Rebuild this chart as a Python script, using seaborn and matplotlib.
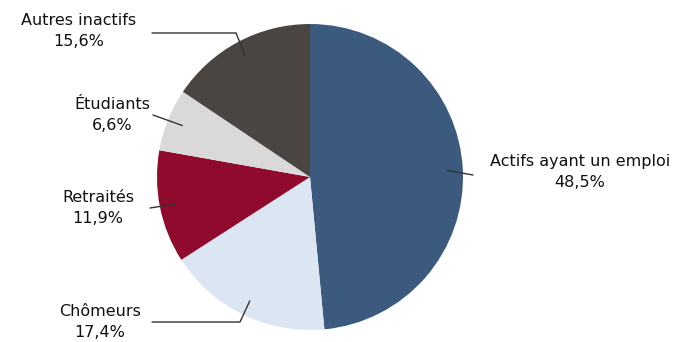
import numpy as np
import matplotlib
matplotlib.use('Agg')
import matplotlib.pyplot as plt
import seaborn as sns

categories = ['Actifs ayant un emploi', 'Chômeurs', 'Retraités', 'Étudiants', 'Autres inactifs']
shares = [48.5, 17.4, 11.9, 6.6, 15.6]
colors = ['#3b5a7e', '#dce6f2', '#8f0a2c', '#d9d9d9', '#4b4542']

# label layout in pixels: text centre, elbow (or None), end of leader near text
label_layout = {
    'Actifs ayant un emploi': ((580, 172), None, (473, 175)),
    'Chômeurs': ((100, 322), (240, 322), (152, 322)),
    'Retraités': ((98, 208), None, (150, 208)),
    'Étudiants': ((112, 115), None, (153, 115)),
    'Autres inactifs': ((79, 31), (236, 33), (152, 33)),
}

W, H = 688, 342
CX, CY, R = 310, 177, 153

sns.set_style('white')
plt.rcParams['font.family'] = ['DejaVu Sans']

fig = plt.figure(figsize=(W / 100, H / 100), dpi=100)
ax = fig.add_axes([0, 0, 1, 1])

wedges, _ = ax.pie(shares, colors=colors, startangle=90, counterclock=False,
                   radius=1, center=(0, 0), wedgeprops=dict(linewidth=0))

ax.set_xlim(-CX / R, (W - CX) / R)
ax.set_ylim(-(H - CY) / R, CY / R)
ax.set_aspect('equal', adjustable='box')
ax.axis('off')


def px(p):
    return ((p[0] - CX) / R, (CY - p[1]) / R)


for w, name, val in zip(wedges, categories, shares):
    text_pos, elbow, end = label_layout[name]
    mid = np.deg2rad((w.theta1 + w.theta2) / 2)
    start = (0.9 * np.cos(mid), 0.9 * np.sin(mid))
    pts = [start]
    if elbow is not None:
        pts.append(px(elbow))
    pts.append(px(end))
    xs, ys = zip(*pts)
    ax.plot(xs, ys, color='#333333', lw=1)
    tx, ty = px(text_pos)
    ax.text(tx, ty, f'{name}\n{val:.1f}%'.replace('.', ','), ha='center', va='center',
            fontsize=11.5, color='#111111', linespacing=1.45)

fig.savefig('out.png', dpi=100)
